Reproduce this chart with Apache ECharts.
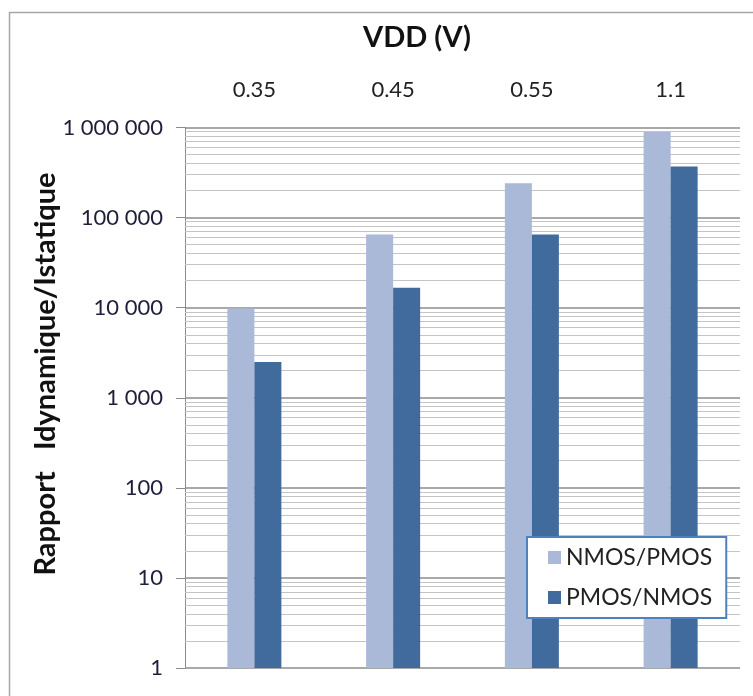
<!DOCTYPE html>
<html><head><meta charset="utf-8">
<script src="https://cdn.jsdelivr.net/npm/echarts@6/dist/echarts.min.js"></script>
<style>html,body{margin:0;padding:0;background:#fff}#c{width:753px;height:696px}</style>
</head><body><div id="c"></div>
<script>
const categories = ['0.35', '0.45', '0.55', '1.1'];
const nmosPmos = [9800, 65000, 240000, 890000];
const pmosNmos = [2500, 16600, 65000, 370000];
const yMin = 1, yMax = 1000000;
const minorMultipliers = [2, 3, 4, 5, 6, 7, 8, 9];

const minorLines = [];
for (let p = yMin; p < yMax; p *= 10) {
  minorMultipliers.forEach(m => minorLines.push({ yAxis: m * p }));
}
function fmt(v) {
  return String(Math.round(v)).replace(/\B(?=(\d{3})+(?!\d))/g, ' ');
}
const FONT = 'Lato';
const chart = echarts.init(document.getElementById('c'));
chart.setOption({
  animation: false,
  textStyle: { fontFamily: FONT },
  grid: { left: 185, right: 13, top: 127.5, bottom: 28 },
  graphic: [
    { type: 'rect', shape: { x: 9.5, y: 12.5, width: 760, height: 720 }, style: { fill: 'none', stroke: '#a6a6a6', lineWidth: 1.5 }, z: -1 },
    { type: 'text', x: 417, y: 38, style: { text: 'VDD (V)', fontFamily: FONT, fontSize: 29, fontWeight: 'bold', fill: '#111', align: 'center', verticalAlign: 'middle' } },
    { type: 'text', x: 46, y: 374, rotation: Math.PI / 2, style: { text: 'Rapport   Idynamique/Istatique', fontFamily: FONT, fontSize: 29, fontWeight: 'bold', fill: '#111', align: 'center', verticalAlign: 'middle' } }
  ],
  legend: {
    orient: 'vertical', left: 527, top: 537,
    padding: [9, 14, 9, 21], itemGap: 17, itemWidth: 13, itemHeight: 13,
    borderColor: '#4f81bd', borderWidth: 2, backgroundColor: '#fff',
    textStyle: { fontFamily: FONT, fontSize: 23, color: '#222' },
    icon: 'rect'
  },
  xAxis: {
    type: 'category', data: categories, position: 'top',
    axisLine: { show: false }, axisTick: { show: false },
    axisLabel: { margin: 27, fontSize: 22, color: '#222', fontFamily: FONT }
  },
  yAxis: {
    type: 'log', logBase: 10, min: yMin, max: yMax, splitNumber: 6,
    axisLine: { show: true, lineStyle: { color: '#8c8c8c', width: 1 } },
    axisTick: { show: true, inside: false, length: 9, lineStyle: { color: '#8c8c8c' } },
    axisLabel: { margin: 22, fontSize: 22, color: '#1f1f3a', fontFamily: FONT, formatter: fmt },
    splitLine: { show: true, lineStyle: { color: '#8c8c8c', width: 1.5 } }
  },
  series: [
    {
      name: 'NMOS/PMOS', type: 'bar', data: nmosPmos, barWidth: 27, barGap: '0%',
      itemStyle: { color: '#aab9d7' }, z: 3,
      markLine: {
        silent: true, symbol: 'none', z: 1, animation: false,
        label: { show: false },
        lineStyle: { color: '#c4c4c4', width: 1.2, type: 'solid' },
        emphasis: { disabled: true },
        data: minorLines
      }
    },
    { name: 'PMOS/NMOS', type: 'bar', data: pmosNmos, barWidth: 27, barGap: '0%', itemStyle: { color: '#416b9c' }, z: 3 }
  ]
});
</script></body></html>
